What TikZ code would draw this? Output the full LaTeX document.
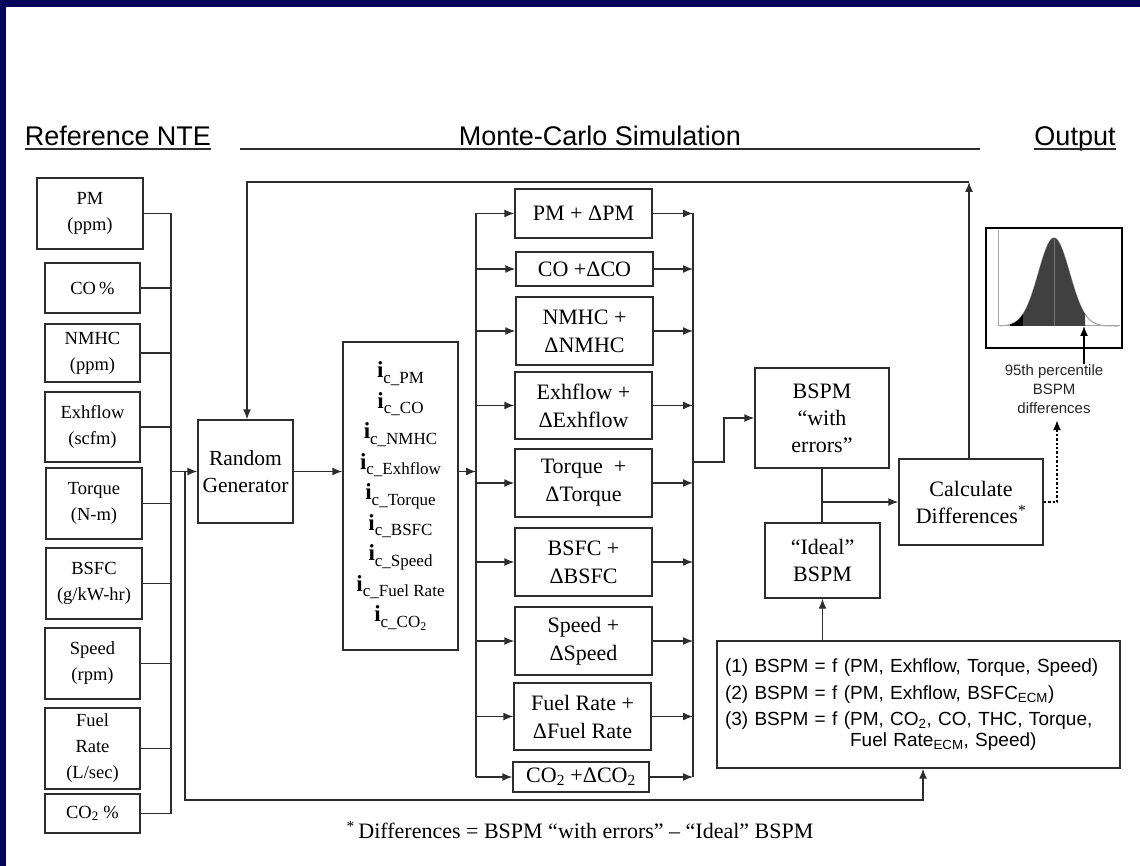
\documentclass[tikz,border=0pt]{standalone}
\usepackage{fontspec}
\setmainfont{Liberation Serif}
\newfontfamily\arial{Liberation Sans}
\usetikzlibrary{arrows.meta}
\definecolor{navy}{RGB}{5,5,90}
\definecolor{linec}{RGB}{45,45,45}
\definecolor{histdark}{RGB}{64,64,64}
\definecolor{histgray}{RGB}{165,165,165}
\newcommand{\icx}[1]{\textbf{i}\raisebox{-5.5pt}{\fontsize{17}{17}\selectfont c\_#1}}
\tikzset{
  sz/.style 2 args={minimum width=#1pt, minimum height=#2pt},
  box/.style={draw=linec, line width=1.4pt, rectangle, inner sep=0pt, align=center, fill=white},
  inbox/.style={box, font=\fontsize{18.5}{26}\selectfont},
  dbox/.style={box, font=\fontsize{22}{28}\selectfont},
  conn/.style={draw=linec, line width=1.4pt},
  arr/.style={conn, -{Latex[length=10pt,width=8pt]}},
  dotarr/.style={draw=black, line width=2.6pt, dash pattern=on 2.4pt off 2pt, -{Latex[length=10pt,width=8pt]}},
  hdr/.style={font=\arial\fontsize{27}{30}\selectfont, anchor=base, inner sep=0pt},
}
\begin{document}
\begin{tikzpicture}[x=1pt,y=-1pt]
\useasboundingbox (0,0) rectangle (1140,866);
\fill[white] (0,0) rectangle (1140,866);
\fill[navy] (0,0) rectangle (1140,7);
\fill[navy] (0,0) rectangle (6,866);

% headers
\node[hdr] (hRef) at (118,146) {Reference NTE};
\node[hdr] (hMC) at (600,146) {Monte-Carlo Simulation};
\node[hdr] (hOut) at (1075,146) {Output};
\draw[conn, line width=1.5pt] ([yshift=-3pt]hRef.base west) -- ([yshift=-3pt]hRef.base east);
\draw[conn, line width=1.5pt] ([yshift=-3pt]hOut.base west) -- ([yshift=-3pt]hOut.base east);
\coordinate (mcL) at (240,149);
\coordinate (mcR) at (980,149);
\draw[conn, line width=1.5pt] (mcL) -- (mcR);

% input boxes
\node[inbox, sz={106}{71}] (pm) at (90,213.5) {PM\\(ppm)};
\node[inbox, sz={95}{50}] (co) at (92.5,288) {CO\,\%};
\node[inbox, sz={95}{58}] (nmhc) at (92.5,353) {NMHC\\(ppm)};
\node[inbox, sz={95}{70}] (exh) at (92.5,427) {Exhflow\\(scfm)};
\node[inbox, sz={96}{71}] (torq) at (94,503.5) {Torque\\(N-m)};
\node[inbox, sz={96}{71}] (bsfc) at (94,583.5) {BSFC\\(g/kW-hr)};
\node[inbox, sz={95}{71}] (spd) at (92.5,663.5) {Speed\\(rpm)};
\node[inbox, sz={95}{81}] (fuel) at (92.5,748.5) {Fuel\\Rate\\(L/sec)};
\node[inbox, sz={95}{39}] (co2) at (92.5,813.5) {CO\textsubscript{2} \%};

% left bus
\coordinate (bustop) at (171,213.5);
\coordinate (busbot) at (171,813.5);
\draw[conn, line width=2.4pt] (bustop) -- (busbot);
\foreach \n in {pm,co,nmhc,exh,torq,bsfc,spd,fuel,co2}
  \draw[conn] (\n.east) -- (\n.east -| bustop);

% random generator
\node[box, sz={95}{103}, font=\fontsize{21.5}{27}\selectfont] (rg) at (245.5,471.5) {Random\\Generator};
\coordinate (busjoin) at (171,471.5);
\draw[arr] (busjoin) -- (rg.west);

% feedback bottom
\coordinate (fbA) at (185,471.5);
\coordinate (fbB) at (185,800);
\coordinate (fbC) at (923,800);

% i_c box
\node[box, sz={115}{308}, font=\fontsize{23}{30.5}\selectfont] (ic) at (400.5,496)
 {\icx{PM}\\\icx{CO}\\\icx{NMHC}\\\icx{Exhflow}\\\icx{Torque}\\\icx{BSFC}\\\icx{Speed}\\\icx{Fuel Rate}\\\icx{CO\textsubscript{2}}};
\draw[arr] (rg.east) -- (rg.east -| ic.west);

% delta boxes
\node[dbox, sz={137}{49}] (dpm) at (583.5,213.5) {PM + ΔPM};
\node[dbox, sz={137}{34}] (dco) at (584.5,269) {CO +ΔCO};
\node[dbox, sz={137}{68}] (dnmhc) at (584.5,331) {NMHC +\\ΔNMHC};
\node[dbox, sz={137}{67}] (dexh) at (583.5,405.5) {Exhflow +\\ΔExhflow};
\node[dbox, sz={137}{68}] (dtorq) at (583.5,483) {Torque\ \ +\\ΔTorque};
\node[dbox, sz={137}{68}] (dbsfc) at (583.5,562) {BSFC +\\ΔBSFC};
\node[dbox, sz={137}{68}] (dspd) at (583.5,641) {Speed +\\ΔSpeed};
\node[dbox, sz={137}{67}] (dfuel) at (582.5,716.5) {Fuel Rate +\\ΔFuel Rate};
\node[dbox, sz={136}{30}] (dco2) at (581,777) {CO\textsubscript{2} +ΔCO\textsubscript{2}};

% middle bus
\coordinate (mbtop) at (476,213.5);
\coordinate (mbbot) at (476,777);
\draw[conn] (mbtop) -- (mbbot);
\draw[arr] (rg.east -| ic.east) -- (rg.east -| mbtop);
\foreach \n in {dpm,dco,dnmhc,dexh,dtorq,dbsfc,dspd,dfuel,dco2}
  \draw[arr] (\n.west -| mbtop) -- (\n.west);

% right bus
\coordinate (rbtop) at (693,213.5);
\coordinate (rbbot) at (693,777);
\draw[conn] (rbtop) -- (rbbot);
\foreach \n in {dpm,dco,dnmhc,dexh,dtorq,dbsfc,dspd,dfuel,dco2}
  \draw[arr] (\n.east) -- (\n.east -| rbtop);

% BSPM boxes
\node[dbox, sz={134}{100}, font=\fontsize{22}{27}\selectfont] (bspm) at (822,418) {BSPM\\“with\\errors”};
\node[dbox, sz={115}{75}, font=\fontsize{22}{27}\selectfont] (ideal) at (822.5,560.5) {“Ideal”\\BSPM};
\node[dbox, sz={144}{86}, font=\fontsize{22}{27}\selectfont] (calc) at (971,502) {Calculate\\Differences\textsuperscript{*}};
\coordinate (rbj) at (693,462);
\coordinate (rbk) at (724,462);
\draw[arr] (rbj) -- (rbk) |- (bspm.west);
\draw[conn] (bspm.south) -- (bspm.south |- ideal.north);
\coordinate (cj) at (822,502);
\draw[arr] (cj) -- (calc.west);

% top feedback
\coordinate (tl) at (247,182);
\coordinate (tr) at (969,182);
\draw[arr] (calc.north -| tr) -- (tr);
\draw[arr] (tr) -- (tl) -- (tl |- rg.north);

% formula box
\node[box, text width=387pt, inner xsep=8pt, minimum height=127pt, align=left, font=\arial\fontsize{19}{27}\selectfont] (formula) at (918.5,704.5)
 {(1) BSPM = f (PM, Exhflow, Torque, Speed)\\
  (2) BSPM = f (PM, Exhflow, BSFC\textsubscript{ECM})\\[-1pt]
  (3) BSPM = f (PM, CO\textsubscript{2}, CO, THC, Torque,\\[-6pt]
  \phantom{(3) BSPM = f (}Fuel Rate\textsubscript{ECM}, Speed)};
\draw[arr] (ideal.south |- formula.north) -- (ideal.south);
\draw[arr] (fbA) -- (fbB) -- (fbC) -- (fbC |- formula.south);

% histogram
\node[draw=black, line width=1.4pt, sz={136}{120}, inner sep=0pt, fill=white] (hist) at (1054,288) {};
\draw[histgray, line width=1pt] (998,230) -- (998,326) -- (1120,326);
\draw[histgray, line width=1.1pt] plot[domain=1000:1118, samples=80] (\x,{326-88*exp(-0.5*((\x-1054)/15.5)*((\x-1054)/15.5))});
\fill[black] (1010,326) -- plot[domain=1010:1023, samples=15] (\x,{326-88*exp(-0.5*((\x-1054)/15.5)*((\x-1054)/15.5))}) -- (1023,326) -- cycle;
\fill[histdark] (1023,326) -- plot[domain=1023:1085, samples=50] (\x,{326-88*exp(-0.5*((\x-1054)/15.5)*((\x-1054)/15.5))}) -- (1085,326) -- cycle;
\draw[black!55, line width=0.8pt] (1054,326) -- (1054,239);
\node[font=\arial\fontsize{15}{19}\selectfont, align=center, inner sep=0pt, text=black!85] (lbl) at (1054,389) {95th percentile\\BSPM\\differences};
\coordinate (hx) at (1084,326);
\draw[arr, draw=black] (lbl.north -| hx) -- (hx);
\coordinate (dc) at (1057,502);
\coordinate (dt) at (1057,420);
\draw[dotarr] (calc.east) -- (dc) -- (dt);

% footnote
\node[font=\fontsize{22}{24}\selectfont, inner sep=0pt] (foot) at (580,830) {\textsuperscript{*}\,Differences = BSPM “with errors” – “Ideal” BSPM};
\end{tikzpicture}
\end{document}
